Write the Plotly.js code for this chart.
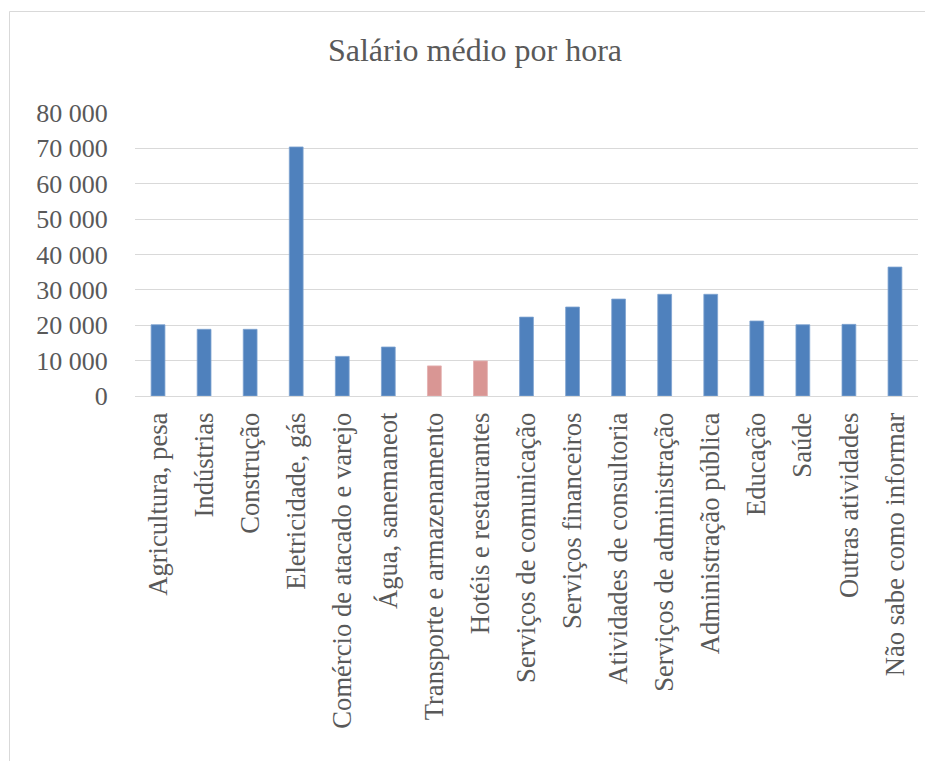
<!DOCTYPE html>
<html>
<head>
<meta charset="utf-8">
<script src="https://cdn.plot.ly/plotly-3.0.1.min.js"></script>
<style>
html,body{margin:0;padding:0;background:#fff;}
#chart{width:925px;height:761px;}
</style>
</head>
<body>
<div id="chart"></div>
<script>
const categories = [
  "Agricultura, pesa",
  "Indústrias",
  "Construção",
  "Eletricidade, gás",
  "Comércio de atacado e varejo",
  "Água, sanemaneot",
  "Transporte e armazenamento",
  "Hotéis e restaurantes",
  "Serviços de comunicação",
  "Serviços financeiros",
  "Atividades de consultoria",
  "Serviços de administração",
  "Administração pública",
  "Educação",
  "Saúde",
  "Outras atividades",
  "Não sabe como informar"
];
const salario = [20150, 18850, 18850, 70400, 11200, 13850, 8500, 9900, 22300, 25150, 27400, 28750, 28750, 21200, 20150, 20250, 36450];
const highlighted = ["Transporte e armazenamento", "Hotéis e restaurantes"];
const yTickVals = [0, 10000, 20000, 30000, 40000, 50000, 60000, 70000, 80000];
const yTickText = ["0", "10 000", "20 000", "30 000", "40 000", "50 000", "60 000", "70 000", "80 000"];

const blue = "#4F81BD", pink = "#D99694";
const colors = categories.map(c => highlighted.includes(c) ? pink : blue);
const lineColors = categories.map(c => highlighted.includes(c) ? "#E3AFAE" : "#7FA3D0");

const serif = "'Liberation Serif', 'Times New Roman', 'DejaVu Serif', serif";

const trace = {
  type: "bar",
  x: categories,
  y: salario,
  marker: {color: colors, line: {color: lineColors, width: 0.8}},
  hoverinfo: "x+y"
};

const plotW = 925 - 135 - 7, plotH = 761 - 113 - 365;
const px = x => (x - 135) / plotW;
const py = y => (761 - 365 - y) / plotH;

const layout = {
  width: 925, height: 761,
  margin: {l: 135, r: 7, t: 113, b: 365},
  paper_bgcolor: "#fff", plot_bgcolor: "#fff",
  bargap: 0.7,
  showlegend: false,
  title: {
    text: "Salário médio por hora",
    font: {family: serif, size: 32, color: "#595959"},
    x: 0.5135, xanchor: "center", xref: "container",
    y: 1 - 50/761, yanchor: "middle", yref: "container"
  },
  xaxis: {
    type: "category",
    tickangle: -90,
    tickfont: {family: serif, size: 26.6, color: "#595959"},
    ticks: "outside", ticklen: 5, tickcolor: "rgba(0,0,0,0)",
    showline: true, linecolor: "#D9D9D9", linewidth: 1,
    showgrid: false, fixedrange: true
  },
  yaxis: {
    range: [0, 80000],
    tickvals: yTickVals, ticktext: yTickText,
    tickfont: {family: serif, size: 26, color: "#595959"},
    ticks: "outside", ticklen: 21, tickcolor: "rgba(0,0,0,0)",
    showgrid: true, gridcolor: "#D9D9D9", gridwidth: 1,
    zeroline: false, showline: false, fixedrange: true
  },
  shapes: [
    {type: "line", xref: "paper", yref: "paper", x0: px(9.5), x1: px(930), y0: py(11.5), y1: py(11.5),
     line: {color: "#D9D9D9", width: 1}, layer: "below"},
    {type: "line", xref: "paper", yref: "paper", x0: px(9.5), x1: px(9.5), y0: py(11.5), y1: py(770),
     line: {color: "#D9D9D9", width: 1}, layer: "below"}
  ]
};

Plotly.newPlot("chart", [trace], layout, {displayModeBar: false, staticPlot: true});
</script>
</body>
</html>
